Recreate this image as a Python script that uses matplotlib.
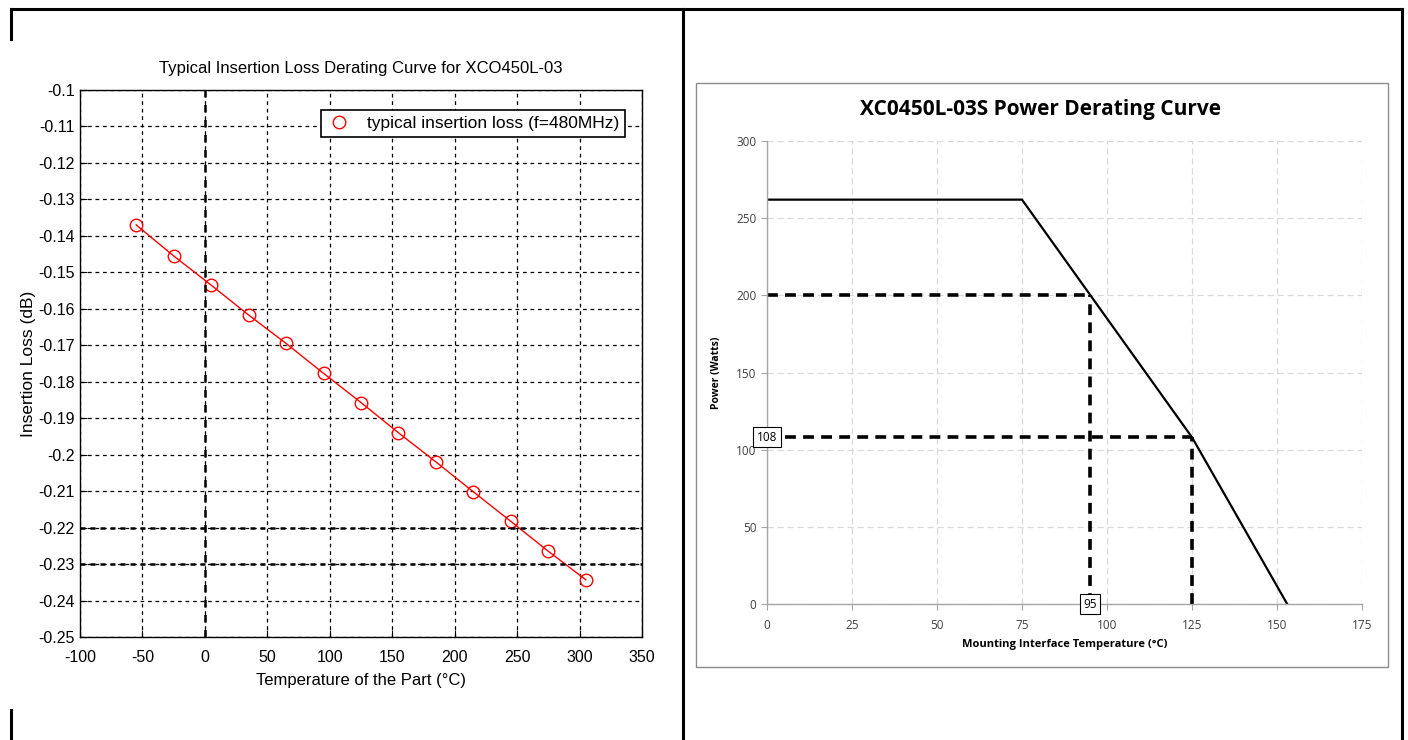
import matplotlib.pyplot as plt
from matplotlib.lines import Line2D
from matplotlib.patches import Rectangle

plt.rcParams['axes.unicode_minus'] = False

# left chart: insertion loss vs temperature
temp_c = [-55, -25, 5, 35, 65, 95, 125, 155, 185, 215, 245, 275, 305]
loss_db = [-0.137, -0.1455, -0.1535, -0.1617, -0.1695, -0.1777, -0.1857,
           -0.1940, -0.2020, -0.2102, -0.2183, -0.2265, -0.2343]
loss_xticks = [-100, -50, 0, 50, 100, 150, 200, 250, 300, 350]
loss_yticks = [-0.1, -0.11, -0.12, -0.13, -0.14, -0.15, -0.16, -0.17, -0.18,
               -0.19, -0.2, -0.21, -0.22, -0.23, -0.24, -0.25]
loss_ylabels = ['-0.1', '-0.11', '-0.12', '-0.13', '-0.14', '-0.15', '-0.16', '-0.17',
                '-0.18', '-0.19', '-0.2', '-0.21', '-0.22', '-0.23', '-0.24', '-0.25']

# right chart: power derating
mount_temp = [0, 75, 125, 153]
power_w = [262, 262, 108, 0]
marker_temps = [95, 125]
marker_powers = [200, 108]
power_xticks = [0, 25, 50, 75, 100, 125, 150, 175]
power_yticks = [0, 50, 100, 150, 200, 250, 300]

W, H = 1408, 740
narrow = ['Liberation Sans Narrow', 'Liberation Sans', 'DejaVu Sans']
excel = ['Open Sans', 'DejaVu Sans']


def box(l, t, r, b):
    return [l / W, 1 - b / H, (r - l) / W, (b - t) / H]


fig = plt.figure(figsize=(W / 100, H / 100), dpi=100)

# page table lines
frame = [((11, 1402), (9, 9)), ((11, 11), (9, 39)), ((683, 683), (9, 740)),
         ((1402, 1402), (9, 740)), ((11, 11), (710, 740))]
for xs, ys in frame:
    fig.add_artist(Line2D([x / W for x in xs], [1 - y / H for y in ys],
                          color='black', lw=2.2, transform=fig.transFigure))

# ---- left chart ----
ax1 = fig.add_axes(box(80, 90, 642, 637))
ax1.plot(temp_c, loss_db, '-', color='red', lw=1.0)
ax1.plot(temp_c, loss_db, 'o', color='red', mfc='none', ms=9, mew=1.0,
         label='typical insertion loss (f=480MHz)')
ax1.set_xlim(-100, 350)
ax1.set_ylim(-0.25, -0.1)
ax1.set_xticks(loss_xticks)
ax1.set_yticks(loss_yticks)
ax1.set_yticklabels(loss_ylabels)
ax1.grid(True, color='black', ls=(0, (3, 3)), lw=0.9)
ax1.axvline(0, color='black', ls=(0, (3, 3)), lw=1.8)
for v in [-0.22, -0.23]:
    ax1.axhline(v, color='black', ls=(0, (2, 2)), lw=1.8)
ax1.tick_params(direction='in', length=5, labelsize=11.5, colors='black')
ax1.tick_params(axis='x', pad=9)
ax1.tick_params(axis='y', pad=4)
for lab in ax1.get_xticklabels() + ax1.get_yticklabels():
    lab.set_family(narrow)
for s in ax1.spines.values():
    s.set_linewidth(1.0)
ax1.set_title('Typical Insertion Loss Derating Curve for XCO450L-03', fontsize=12,
              family=narrow, pad=12)
ax1.set_xlabel('Temperature of the Part (\u00b0C)', fontsize=12, family=narrow, labelpad=6)
ax1.set_ylabel('Insertion Loss (dB)', fontsize=12.5, family=narrow, labelpad=1)
leg = ax1.legend(loc='upper right', bbox_to_anchor=(0.985, 0.98), fancybox=False,
                 edgecolor='black', framealpha=1, handlelength=1.4,
                 handletextpad=0.9, borderpad=0.35, prop={'family': narrow, 'size': 12.5})
leg.get_frame().set_linewidth(1.2)

# ---- right chart ----
fig.add_artist(Rectangle((696 / W, 1 - 667 / H), (1388 - 696) / W, (667 - 83) / H,
                         transform=fig.transFigure, fill=False, edgecolor='#8c8c8c', lw=1.0))
ax2 = fig.add_axes(box(767, 141, 1362, 604))
ax2.set_xlim(0, 175)
ax2.set_ylim(0, 300)
ax2.set_xticks(power_xticks)
ax2.set_yticks(power_yticks)
ax2.grid(True, color='#d9d9d9', ls=(0, (5, 3)), lw=0.9)
ax2.set_axisbelow(True)
for side in ['top', 'right']:
    ax2.spines[side].set_visible(False)
for side in ['left', 'bottom']:
    ax2.spines[side].set_color('#a6a6a6')
    ax2.spines[side].set_linewidth(1.0)
ax2.tick_params(direction='out', length=4, color='#a6a6a6', labelsize=8.5, labelcolor='#404040')
ax2.tick_params(axis='x', pad=7)
for lab in ax2.get_xticklabels() + ax2.get_yticklabels():
    lab.set_family(excel)

ax2.plot(mount_temp, power_w, color='black', lw=1.6, solid_joinstyle='miter')
for t, p in zip(marker_temps, marker_powers):
    ax2.plot([0, t], [p, p], color='black', lw=2.6, ls=(0, (3, 2)))
    ax2.plot([t, t], [0, p], color='black', lw=2.6, ls=(0, (3, 2)))

bbox = dict(boxstyle='square,pad=0.3', fc='white', ec='black', lw=0.8)
ax2.text(0, marker_powers[1], str(marker_powers[1]), ha='center', va='center', fontsize=8.5,
         family=excel, bbox=bbox, zorder=5)
ax2.text(marker_temps[0], 0, str(marker_temps[0]), ha='center', va='center', fontsize=8.5,
         family=excel, bbox=bbox, zorder=5, clip_on=False)

fig.text(1041 / W, 1 - 110 / H, 'XC0450L-03S Power Derating Curve', ha='center', va='center',
         fontsize=15, weight='bold', family=excel)
ax2.set_xlabel('Mounting Interface Temperature (\u00b0C)', fontsize=8, weight='bold',
               family=excel, labelpad=5)
ax2.set_ylabel('Power (Watts)', fontsize=7.5, weight='bold', family=excel, labelpad=10)

fig.savefig('out.png', dpi=100)
